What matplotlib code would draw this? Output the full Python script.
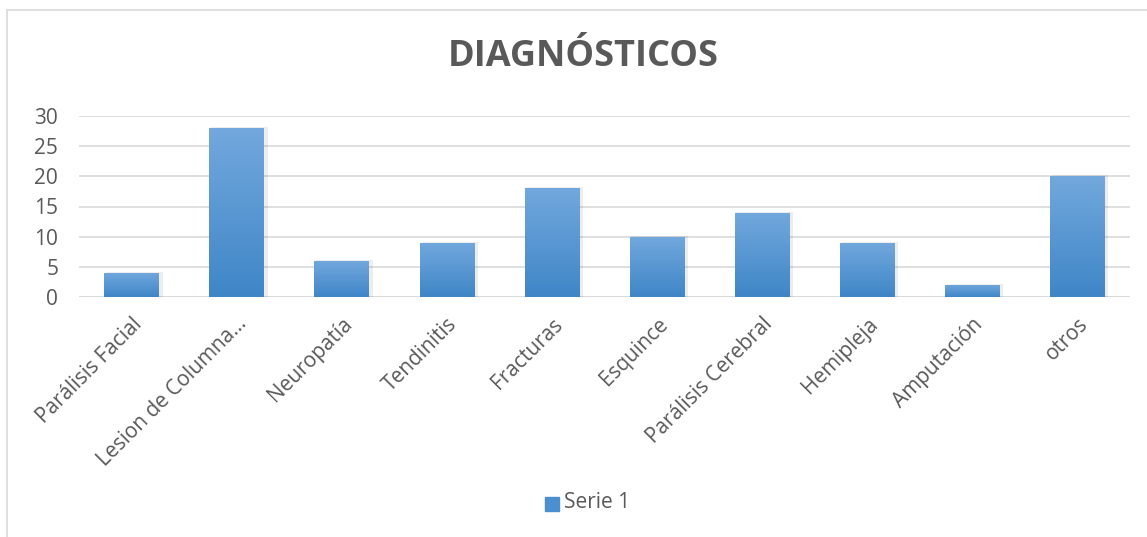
import numpy as np
import matplotlib.pyplot as plt
from matplotlib.patches import Rectangle
from matplotlib.colors import LinearSegmentedColormap

plt.rcParams['font.family'] = ['Open Sans', 'DejaVu Sans']

categories = ['Parálisis Facial', 'Lesion de Columna…', 'Neuropatía', 'Tendinitis',
              'Fracturas', 'Esquince', 'Parálisis Cerebral', 'Hemipleja',
              'Amputación', 'otros']
values = [4, 28, 6, 9, 18, 10, 14, 9, 2, 20]
yticks = [0, 5, 10, 15, 20, 25, 30]

W, H = 1147, 537
fig = plt.figure(figsize=(W / 100, H / 100), dpi=100)
ax = fig.add_axes([79 / W, (H - 297) / H, (1130 - 79) / W, (297 - 116) / H])

grey = '#595959'
cmap = LinearSegmentedColormap.from_list('bar', ['#3f86c7', '#72a8dd'])
grad = np.linspace(0, 1, 256).reshape(-1, 1)
width = 0.52

x = np.arange(len(categories))
bars = ax.bar(x, values, width=width, color='none', zorder=3, label='Serie 1')
for b in bars:
    x0, y0 = b.get_x(), b.get_y()
    w, h = b.get_width(), b.get_height()
    # soft shadow
    ax.add_patch(Rectangle((x0 + 0.015, y0), w + 0.02, h + 0.15, color='#000000',
                           alpha=0.07, zorder=2, lw=0))
    im = ax.imshow(grad, cmap=cmap, extent=[x0, x0 + w, y0, y0 + h],
                   aspect='auto', origin='lower', zorder=3)
    im.set_clip_path(b)

ax.set_xlim(-0.5, len(categories) - 0.5)
ax.set_ylim(0, 30)
ax.set_yticks(yticks)
ax.set_xticks(x)
ax.set_xticklabels(categories, rotation=45, ha='right', rotation_mode='anchor',
                   fontsize=15, color=grey)
ax.tick_params(axis='y', labelsize=15, colors=grey, length=0, pad=15)
ax.tick_params(axis='x', length=0, pad=12)
ax.grid(axis='y', color='#d9d9d9', lw=1.2, zorder=0)
for s in ax.spines.values():
    s.set_visible(False)
ax.axhline(0, color='#d9d9d9', lw=1.2, zorder=1)

fig.text(583 / W, 1 - 57 / H, 'DIAGNÓSTICOS', ha='center', va='center',
         fontsize=26, fontweight='bold', color=grey)

# legend
fig.patches.append(Rectangle((545 / W, 1 - 511 / H), 14 / W, 14 / H,
                             transform=fig.transFigure, color='#4a8fd0'))
fig.text(564 / W, 1 - 503 / H, 'Serie 1', ha='left', va='center',
         fontsize=15, color=grey)

# chart frame
fig.patches.append(Rectangle((7 / W, -0.05), 1.2, 1 - 10 / H + 0.05,
                             transform=fig.transFigure, fill=False,
                             ec='#d9d9d9', lw=1.2))

fig.savefig('out.png', dpi=100)
